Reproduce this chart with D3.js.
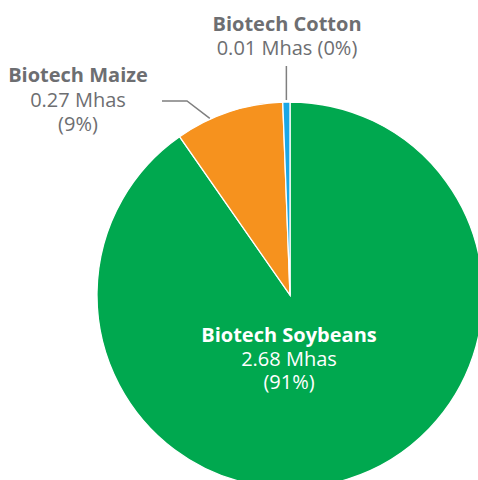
<!DOCTYPE html>
<html>
<head>
<meta charset="utf-8">
<style>
  body { margin: 0; background: #fff; }
  svg { display: block; }
</style>
</head>
<body>
<svg width="478" height="480" font-family="'Open Sans', sans-serif" font-size="20"></svg>

<script src="https://d3js.org/d3.v7.min.js"></script>

<script>
// chart data
var crops = ["Biotech Soybeans", "Biotech Maize", "Biotech Cotton"];
var mhas = [2.68, 0.27, 0.01];
var valueLabels = ["2.68 Mhas", "0.27 Mhas", "0.01 Mhas"];
var pctLabels = ["(91%)", "(9%)", "(0%)"];
var colors = ["#00a84f", "#f6921e", "#1aa7e6"];

var svg = d3.select("svg"),
    cx = 290,
    cy = 295,
    radius = 193;

var total = d3.sum(mhas);

// tiny slices get a minimum share so they stay visible
var pie = d3.pie()
    .sort(null)
    .value(function(d) { return Math.max(d, total * 0.006); });

var arc = d3.arc()
    .innerRadius(0)
    .outerRadius(radius);

var arcs = pie(mhas);

var g = svg.append("g")
    .attr("transform", "translate(" + cx + "," + cy + ")");

g.selectAll("path")
  .data(arcs)
  .enter().append("path")
    .attr("d", arc)
    .attr("fill", function(d, i) { return colors[i]; })
    .attr("stroke", "#fff")
    .attr("stroke-width", 1.3);

// point on the rim at a given angle
function rim(a, r) {
  return [r * Math.sin(a), -r * Math.cos(a)];
}

var gray = "#6d6e71";
var lineColor = "#7f7f7f";

// soybeans label inside the slice
var soy = g.append("text")
    .attr("text-anchor", "middle")
    .attr("fill", "#fff");
soy.append("tspan").attr("x", -1).attr("y", 47)
    .attr("font-weight", "bold").text(crops[0]);
soy.append("tspan").attr("x", -1).attr("y", 71).text(valueLabels[0]);
soy.append("tspan").attr("x", -1).attr("y", 94).text(pctLabels[0]);

// maize leader + label
var m = arcs[1];
var mEnd = rim(m.startAngle + (m.endAngle - m.startAngle) * 0.32, radius + 1);
var mElbow = [-103, -194];
var mStart = [-128, -194];
g.append("polyline")
    .attr("points", [mStart, mElbow, mEnd].map(function(p) { return p.join(","); }).join(" "))
    .attr("fill", "none")
    .attr("stroke", lineColor)
    .attr("stroke-width", 1.5);

var maize = svg.append("text")
    .attr("text-anchor", "middle")
    .attr("fill", gray);
maize.append("tspan").attr("x", 78).attr("y", 82)
    .attr("font-weight", "bold").text(crops[1]);
maize.append("tspan").attr("x", 78).attr("y", 107).text(valueLabels[1]);
maize.append("tspan").attr("x", 78).attr("y", 131).text(pctLabels[1]);

// cotton leader + label
var c = arcs[2];
var cMid = rim((c.startAngle + c.endAngle) / 2, radius);
g.append("line")
    .attr("x1", cMid[0]).attr("y1", cMid[1] - 2)
    .attr("x2", cMid[0]).attr("y2", -229)
    .attr("stroke", lineColor)
    .attr("stroke-width", 1.5);

var cotton = svg.append("text")
    .attr("text-anchor", "middle")
    .attr("fill", gray);
cotton.append("tspan").attr("x", 287).attr("y", 31)
    .attr("font-weight", "bold").text(crops[2]);
cotton.append("tspan").attr("x", 287).attr("y", 55)
    .text(valueLabels[2] + " " + pctLabels[2]);
</script>
</body>
</html>
